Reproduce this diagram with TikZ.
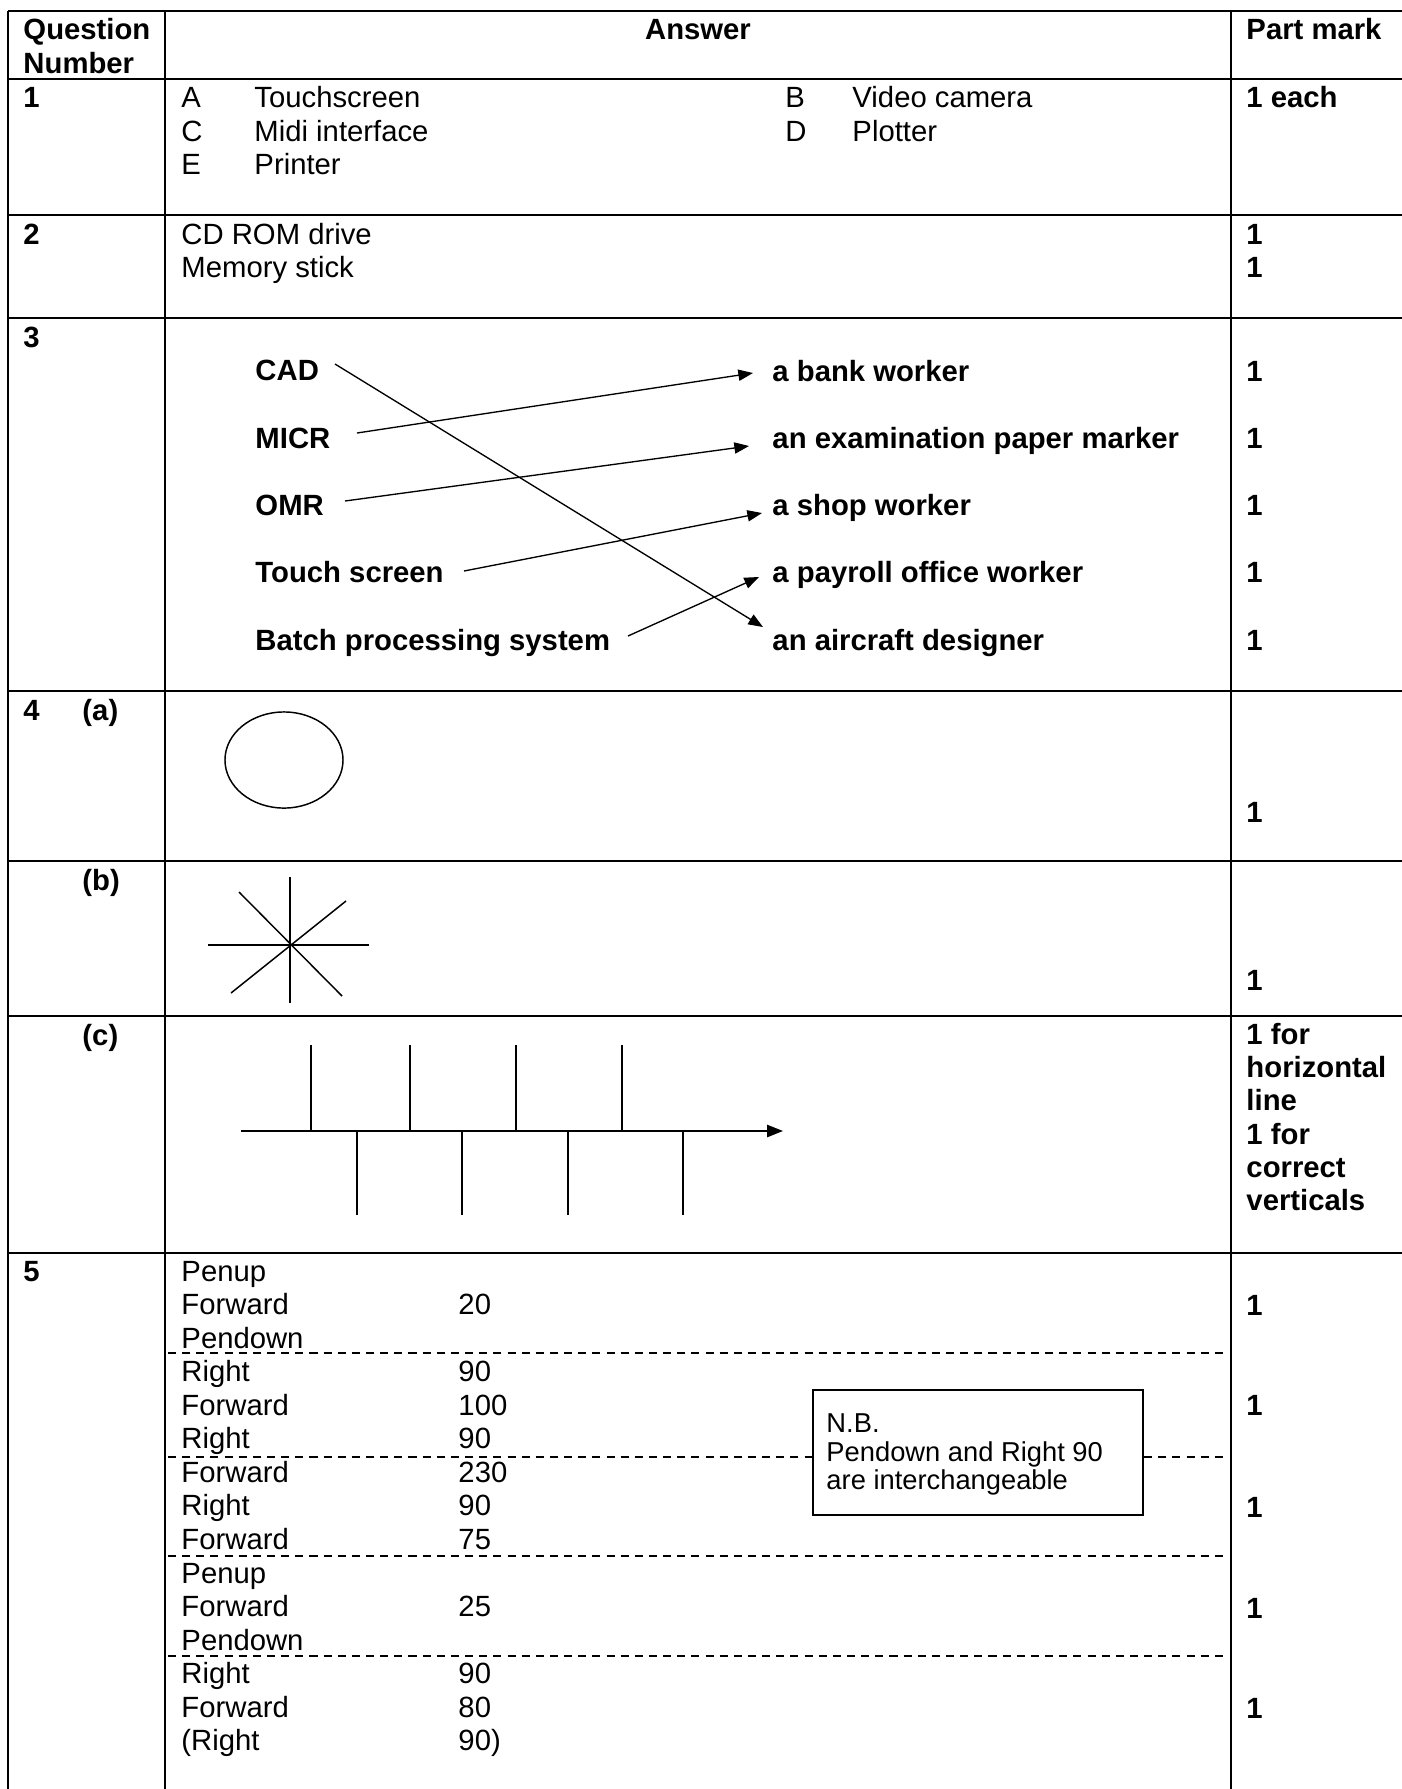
\documentclass[tikz,border=0pt]{standalone}
\usepackage{fontspec}
\setmainfont{Liberation Sans}
\usetikzlibrary{arrows.meta}
\begin{document}
\begin{tikzpicture}[x=0.41pt,y=-0.41pt,
  txt/.style={anchor=base west,inner sep=0pt,font=\fontsize{12}{14}\selectfont},
  btxt/.style={anchor=base west,inner sep=0pt,font=\fontsize{12}{14}\selectfont\bfseries},
  ntxt/.style={anchor=base west,inner sep=0pt,font=\fontsize{11.2}{13}\selectfont},
  grid/.style={line width=1pt},
  conn/.style={line width=0.55pt,-{Triangle[length=6pt,width=4.6pt]}},
  sepline/.style={line width=0.6pt,dash pattern=on 3.3pt off 2.5pt},
  fig/.style={line width=0.6pt},
  nbbox/.style={draw,line width=0.8pt,fill=white,inner sep=0pt,minimum width=135.3pt,minimum height=51.3pt}]
\useasboundingbox (0,0) rectangle (1402,1789);
% table grid
\foreach \yy in {11,79,215,318,691,861,1016,1253}
  \draw[grid] (8,\yy) -- (1402,\yy);
\foreach \xx in {8,165,1231}
  \draw[grid] (\xx,11) -- (\xx,1789);
% header
\node[btxt] (hq1) at (23,39) {Question};
\node[btxt] (hq2) at (23,73) {Number};
\node[btxt,anchor=base] (hans) at (698,39) {Answer};
\node[btxt] (hpm) at (1246,39) {Part mark};
% row 1
\node[btxt] (q1) at (23,107) {1};
\node[txt] (r1a) at (181,107) {A};
\node[txt] (r1at) at (254,107) {Touchscreen};
\node[txt] (r1b) at (785,107) {B};
\node[txt] (r1bt) at (852,107) {Video camera};
\node[txt] (r1c) at (181,141) {C};
\node[txt] (r1ct) at (254,141) {Midi interface};
\node[txt] (r1d) at (785,141) {D};
\node[txt] (r1dt) at (852,141) {Plotter};
\node[txt] (r1e) at (181,174) {E};
\node[txt] (r1et) at (254,174) {Printer};
\node[btxt] (m1) at (1246,107) {1 each};
% row 2
\node[btxt] (q2) at (23,244) {2};
\node[txt] (r2a) at (181,244) {CD ROM drive};
\node[txt] (r2b) at (181,277) {Memory stick};
\node[btxt] (m2a) at (1246,244) {1};
\node[btxt] (m2b) at (1246,277) {1};
% row 3
\node[btxt] (q3) at (23,347) {3};
\node[btxt] (cad) at (255,380) {CAD};
\node[btxt] (micr) at (255,448) {MICR};
\node[btxt] (omr) at (255,515) {OMR};
\node[btxt] (touch) at (255,582) {Touch screen};
\node[btxt] (batch) at (255,650) {Batch processing system};
\node[btxt] (bank) at (772,381) {a bank worker};
\node[btxt] (exam) at (772,448) {an examination paper marker};
\node[btxt] (shop) at (772,515) {a shop worker};
\node[btxt] (pay) at (772,582) {a payroll office worker};
\node[btxt] (air) at (772,650) {an aircraft designer};
\foreach \yy/\nm in {381/a,448/b,515/c,582/d,650/e}
  \node[btxt] (m3\nm) at (1246,\yy) {1};
\coordinate (cadS) at (335,364);
\coordinate (airE) at (763,627);
\coordinate (micrS) at (357,433);
\coordinate (bankE) at (753,373);
\coordinate (omrS) at (345,501);
\coordinate (examE) at (749,446);
\coordinate (touchS) at (464,571);
\coordinate (shopE) at (762,513);
\coordinate (batchS) at (628,636);
\coordinate (payE) at (759,577);
\draw[conn] (cadS) -- (airE);
\draw[conn] (micrS) -- (bankE);
\draw[conn] (omrS) -- (examE);
\draw[conn] (touchS) -- (shopE);
\draw[conn] (batchS) -- (payE);
% row 4a
\node[btxt] (q4) at (23,720) {4};
\node[btxt] (q4a) at (82,720) {(a)};
\draw[fig] (284,760) ellipse [x radius=24.2pt, y radius=19.7pt];
\node[btxt] (m4a) at (1246,822) {1};
% row 4b
\node[btxt] (q4b) at (82,890) {(b)};
\draw[fig] (290,877) -- (290,1003);
\draw[fig] (208,945) -- (369,945);
\draw[fig] (239,892) -- (342,996);
\draw[fig] (346,901) -- (231,993);
\node[btxt] (m4b) at (1246,990) {1};
% row 4c
\node[btxt] (q4c) at (82,1045) {(c)};
\coordinate (hS) at (241,1131);
\coordinate (hE) at (783,1131);
\draw[line width=0.7pt,-{Triangle[length=6.5pt,width=5pt]}] (hS) -- (hE);
\foreach \xx in {311,410,516,622}
  \draw[fig] (\xx,1045) -- (\xx,1131);
\foreach \xx in {357,462,568,683}
  \draw[fig] (\xx,1131) -- (\xx,1215);
\node[btxt] (m4c1) at (1246,1044) {1 for};
\node[btxt] (m4c2) at (1246,1077) {horizontal};
\node[btxt] (m4c3) at (1246,1110) {line};
\node[btxt] (m4c4) at (1246,1144) {1 for};
\node[btxt] (m4c5) at (1246,1177) {correct};
\node[btxt] (m4c6) at (1246,1210) {verticals};
% row 5
\node[btxt] (q5) at (23,1281) {5};
\foreach \yy in {1353,1457,1556,1656}
  \draw[sepline] (168,\yy) -- (1228,\yy);
\node[txt] (c0) at (181,1281) {Penup};
\node[txt] (c1) at (181,1314.6) {Forward};
\node[txt] (v1) at (458,1314.6) {20};
\node[txt] (c2) at (181,1348.1) {Pendown};
\node[txt] (c3) at (181,1381.7) {Right};
\node[txt] (v3) at (458,1381.7) {90};
\node[txt] (c4) at (181,1415.2) {Forward};
\node[txt] (v4) at (458,1415.2) {100};
\node[txt] (c5) at (181,1448.8) {Right};
\node[txt] (v5) at (458,1448.8) {90};
\node[txt] (c6) at (181,1482.3) {Forward};
\node[txt] (v6) at (458,1482.3) {230};
\node[txt] (c7) at (181,1515.9) {Right};
\node[txt] (v7) at (458,1515.9) {90};
\node[txt] (c8) at (181,1549.4) {Forward};
\node[txt] (v8) at (458,1549.4) {75};
\node[txt] (c9) at (181,1583) {Penup};
\node[txt] (c10) at (181,1616.5) {Forward};
\node[txt] (v10) at (458,1616.5) {25};
\node[txt] (c11) at (181,1650.1) {Pendown};
\node[txt] (c12) at (181,1683.6) {Right};
\node[txt] (v12) at (458,1683.6) {90};
\node[txt] (c13) at (181,1717.2) {Forward};
\node[txt] (v13) at (458,1717.2) {80};
\node[txt] (c14) at (181,1750.7) {(Right};
\node[txt] (v14) at (458,1750.7) {90)};
\foreach \yy/\nm in {1315/a,1415/b,1517/c,1618/d,1718/e}
  \node[btxt] (m5\nm) at (1246,\yy) {1};
% N.B. box
\node[nbbox] (nb) at (978,1452.5) {};
\node[ntxt] (nb1) at (826,1432) {N.B.};
\node[ntxt] (nb2) at (826,1461) {Pendown and Right 90};
\node[ntxt] (nb3) at (826,1489) {are interchangeable};
\end{tikzpicture}
\end{document}
